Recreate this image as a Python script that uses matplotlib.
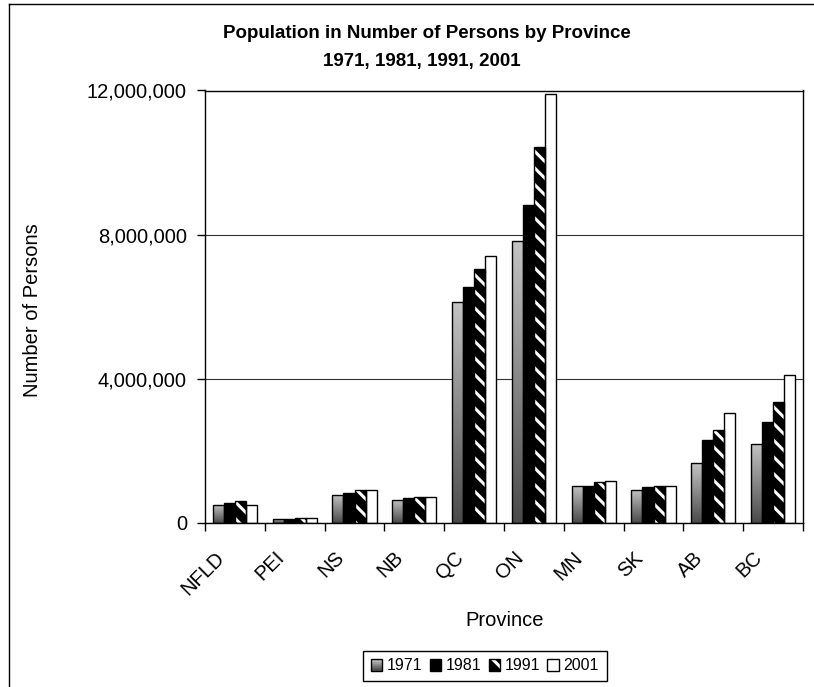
import numpy as np
import matplotlib
matplotlib.use("Agg")
import matplotlib.pyplot as plt
import matplotlib.transforms as mtrans
from matplotlib.patches import Rectangle, Patch
from matplotlib.lines import Line2D
from matplotlib.legend_handler import HandlerTuple
from matplotlib.colors import LinearSegmentedColormap
from matplotlib.ticker import FuncFormatter, FixedLocator

provinces = ["NFLD", "PEI", "NS", "NB", "QC", "ON", "MN", "SK", "AB", "BC"]
years = ["1971", "1981", "1991", "2001"]
pop_1971 = [510000, 112000, 780000, 650000, 6120000, 7820000, 1030000, 920000, 1660000, 2200000]
pop_1981 = [555000, 123000, 830000, 690000, 6540000, 8810000, 1030000, 990000, 2310000, 2810000]
pop_1991 = [600000, 130000, 920000, 720000, 7040000, 10420000, 1130000, 1030000, 2580000, 3370000]
pop_2001 = [513000, 136000, 910000, 730000, 7400000, 11900000, 1170000, 1030000, 3040000, 4100000]
y_ticks = [0, 4000000, 8000000, 12000000]

plt.rcParams["font.family"] = ["Liberation Sans", "DejaVu Sans"]
plt.rcParams["hatch.linewidth"] = 2.2

W, H = 814, 687
fig = plt.figure(figsize=(W / 100, H / 100), dpi=100)
ax = fig.add_axes([205 / W, 1 - 523 / H, (803 - 205) / W, (523 - 90.5) / H])

x = np.arange(len(provinces))
bw = 0.184
offs = np.array([-1.5, -0.5, 0.5, 1.5]) * bw

grad_cmap = LinearSegmentedColormap.from_list("g", ["#c4c4c4", "#4a4a4a"])
grad = np.linspace(0, 1, 100).reshape(-1, 1)

# 1971 - gradient bars
bars71 = ax.bar(x + offs[0], pop_1971, bw, facecolor="none", edgecolor="black", linewidth=1, zorder=2)
for b in bars71:
    im = ax.imshow(grad, cmap=grad_cmap, aspect="auto", origin="upper",
                   extent=[b.get_x(), b.get_x() + b.get_width(), 0, b.get_height()],
                   zorder=1.5, interpolation="bilinear")
    im.set_clip_path(b)

# 1981 - black
ax.bar(x + offs[1], pop_1981, bw, facecolor="black", edgecolor="black", linewidth=1, zorder=2)

# 1991 - hatched black/white
ax.bar(x + offs[2], pop_1991, bw, facecolor="black", edgecolor="white", hatch="\\\\", linewidth=0, zorder=2)
ax.bar(x + offs[2], pop_1991, bw, facecolor="none", edgecolor="black", linewidth=1, zorder=2.1)

# 2001 - white
ax.bar(x + offs[3], pop_2001, bw, facecolor="white", edgecolor="black", linewidth=1, zorder=2)

ax.set_xlim(-0.5, len(provinces) - 0.5)
ax.set_ylim(0, 12000000)
ax.set_yticks(y_ticks)
ax.yaxis.set_major_formatter(FuncFormatter(lambda v, p: "{:,.0f}".format(v)))
ax.tick_params(axis="y", labelsize=14.5, length=6, width=1, pad=7, direction="out")
ax.yaxis.grid(True, color="#333333", linewidth=0.8)
ax.set_axisbelow(True)

ax.xaxis.set_major_locator(FixedLocator(np.arange(-0.5, len(provinces), 1.0)))
ax.xaxis.set_major_formatter(FuncFormatter(lambda v, p: ""))
ax.xaxis.set_minor_locator(FixedLocator(x))
ax.set_xticklabels(provinces, minor=True, rotation=45, ha="right", va="top")
ax.tick_params(axis="x", which="major", length=6, width=1, direction="out")
ax.tick_params(axis="x", which="minor", length=0, labelsize=14.5, pad=18)
shift = mtrans.ScaledTranslation(-7 / 100, 0, fig.dpi_scale_trans)
for lbl in ax.get_xticklabels(minor=True):
    lbl.set_transform(lbl.get_transform() + shift)

for s in ax.spines.values():
    s.set_color("black")
    s.set_linewidth(1)

fig.text(427 / W, 1 - 38 / H, "Population in Number of Persons by Province",
         ha="center", va="baseline", fontsize=13.5, fontweight="bold")
fig.text(422 / W, 1 - 66 / H, "1971, 1981, 1991, 2001",
         ha="center", va="baseline", fontsize=13.5, fontweight="bold")
fig.text(33 / W, 1 - 310 / H, "Number of Persons", rotation=90,
         ha="center", va="center", fontsize=14.5)
fig.text(505 / W, 1 - 620 / H, "Province", ha="center", va="center", fontsize=14.5)


# legend marker with a small vertical gradient
class GradHandler:
    def legend_artist(self, legend, orig_handle, fontsize, handlebox):
        x0, y0 = -handlebox.xdescent, -handlebox.ydescent
        w, h = handlebox.width, handlebox.height
        n = 10
        for i in range(n):
            c = grad_cmap(1 - (i + 0.5) / n)
            handlebox.add_artist(Rectangle((x0, y0 + h * i / n), w, h / n, facecolor=c,
                                           edgecolor="none", transform=handlebox.get_transform()))
        r = Rectangle((x0, y0), w, h, facecolor="none", edgecolor="black", linewidth=1,
                      transform=handlebox.get_transform())
        handlebox.add_artist(r)
        return r


h71 = Patch(facecolor="#888888", edgecolor="black")
h81 = Patch(facecolor="black", edgecolor="black")
h91 = (Patch(facecolor="black", edgecolor="white", hatch="\\\\", linewidth=0),
       Patch(facecolor="none", edgecolor="black", linewidth=1))
h01 = Patch(facecolor="white", edgecolor="black")
leg = fig.legend([h71, h81, h91, h01], years, loc="center",
                 bbox_to_anchor=(485 / W, 1 - 666 / H), ncol=4, fontsize=11.5,
                 handlelength=0.7, handleheight=0.7, handletextpad=0.3,
                 columnspacing=0.45, borderpad=0.5, fancybox=False,
                 framealpha=1, edgecolor="black",
                 handler_map={h71: GradHandler(), tuple: HandlerTuple(ndivide=1)})
leg.get_frame().set_linewidth(1)

# outer chart frame
fig.add_artist(Line2D([9 / W, 1], [1 - 4 / H, 1 - 4 / H], color="black", linewidth=1))
fig.add_artist(Line2D([9 / W, 9 / W], [1 - 4 / H, 0], color="black", linewidth=1))

fig.savefig("out.png", dpi=100)
